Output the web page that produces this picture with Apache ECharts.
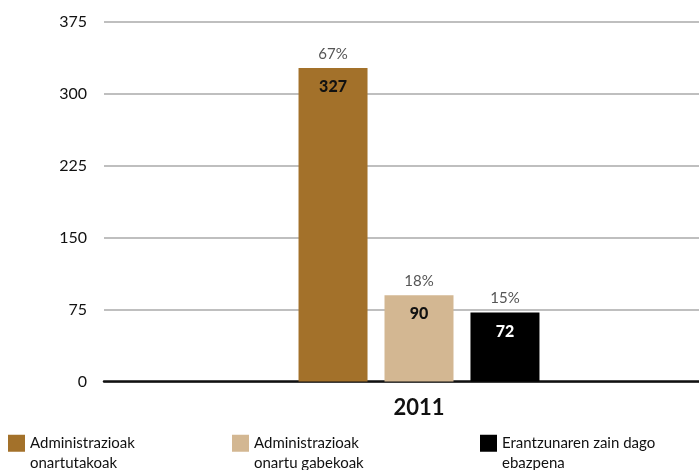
<!DOCTYPE html>
<html><head><meta charset="utf-8">
<script src="https://cdn.jsdelivr.net/npm/echarts@6/dist/echarts.min.js"></script>
<style>html,body{margin:0;padding:0;background:#fff}#c{width:699px;height:470px}</style>
</head><body><div id="c"></div>
<script>
var categories = ['2011'];
var seriesNames = ['Administrazioak\nonartutakoak', 'Administrazioak\nonartu gabekoak', 'Erantzunaren zain dago\nebazpena'];
var values = [327, 90, 72];
var percents = ['67%', '18%', '15%'];
var yTicks = [0, 75, 150, 225, 300, 375];
var colors = ['#A3712A', '#D3B792', '#000000'];
var valueColors = ['#111', '#111', '#fff'];
var legendLeft = [8, 232, 480];

var FONT = 'Lato, "Open Sans", sans-serif';
var chart = echarts.init(document.getElementById('c'));
var series = values.map(function (v, i) {
  return {
    name: seriesNames[i], type: 'bar', data: [v],
    barWidth: 69, barGap: '24.6%',
    itemStyle: { color: colors[i] },
    label: {
      show: true, position: 'insideTop', distance: 0, offset: [0, -30.5],
      formatter: '{p|' + percents[i] + '}\n{v|' + v + '}',
      rich: {
        p: { fontSize: 15, lineHeight: 33, color: '#555', fontFamily: FONT, fontWeight: 'normal' },
        v: { fontSize: 16, lineHeight: 33, color: valueColors[i], fontFamily: FONT, fontWeight: 900 }
      }
    }
  };
});
chart.setOption({
  animation: false,
  textStyle: { fontFamily: FONT },
  grid: { left: 104, top: 22, width: 630, bottom: 88.5, containLabel: false, outerBoundsMode: 'none' },
  legend: seriesNames.map(function (n, i) {
    return {
      data: [n], left: legendLeft[i], top: 414, itemWidth: 17, itemHeight: 17,
      icon: 'rect', selectedMode: false, padding: 0,
      formatter: function (name) { return '\n' + name; },
      textStyle: { fontSize: 15, lineHeight: 19.5, color: '#111', fontFamily: FONT }
    };
  }),
  xAxis: {
    type: 'category', data: categories,
    axisLine: { lineStyle: { color: '#111', width: 2.5 } },
    axisTick: { show: false },
    axisLabel: { fontSize: 22, fontWeight: 'bold', color: '#111', margin: 15, fontFamily: FONT }
  },
  yAxis: {
    type: 'value', min: yTicks[0], max: yTicks[yTicks.length - 1], interval: yTicks[1] - yTicks[0],
    axisLine: { show: false }, axisTick: { show: false },
    splitLine: { lineStyle: { color: '#aaa', width: 1.5 } },
    axisLabel: { fontSize: 16, color: '#111', margin: 17, fontFamily: FONT }
  },
  series: series
});
</script></body></html>
